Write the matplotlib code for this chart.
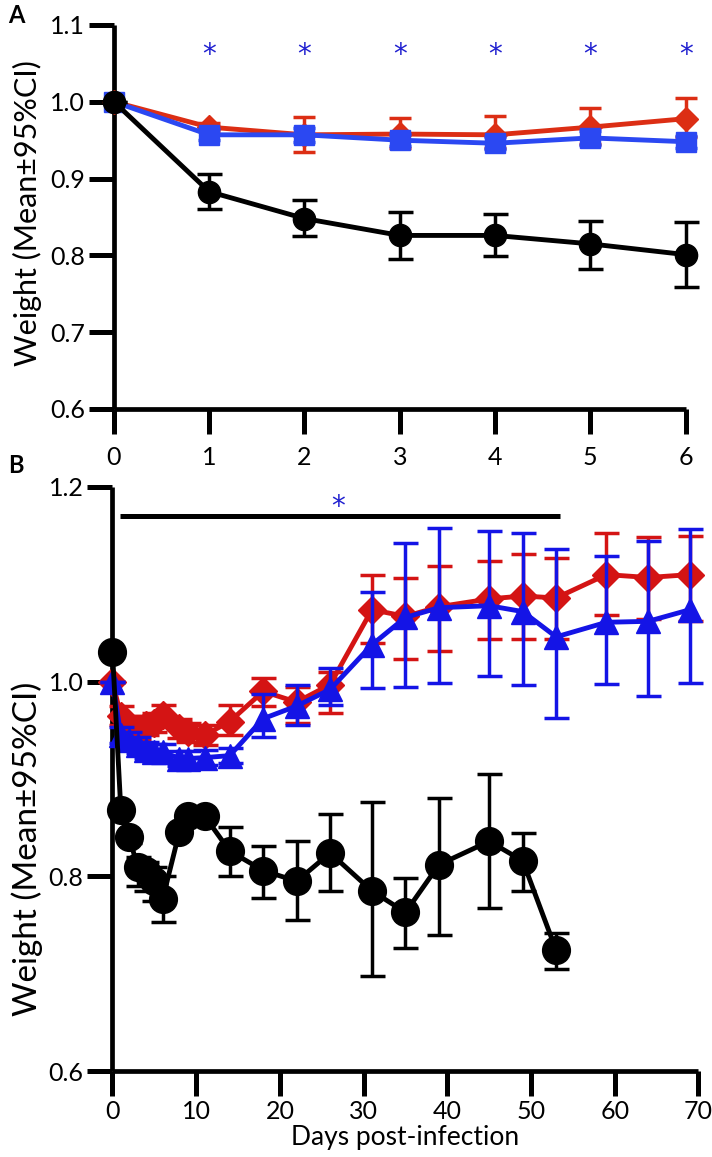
import matplotlib
matplotlib.use('Agg')
import matplotlib.pyplot as plt
import numpy as np

plt.rcParams['font.family'] = ['Lato', 'DejaVu Sans']

RED_A = '#dc2e14'
RED_B = '#d41414'
BLUE_A = '#2b48f2'
BLUE_B = '#1414e6'
STAR = '#2020d0'

# ---- Panel A data (days 0-6) ----
days_a = [0, 1, 2, 3, 4, 5, 6]
black_a = [1.000, 0.883, 0.848, 0.826, 0.826, 0.815, 0.801]
black_a_lo = [1.000, 0.861, 0.825, 0.795, 0.799, 0.782, 0.759]
black_a_hi = [1.000, 0.906, 0.872, 0.856, 0.854, 0.845, 0.843]
red_a = [1.000, 0.967, 0.957, 0.958, 0.957, 0.967, 0.978]
red_a_lo = [1.000, 0.962, 0.935, 0.940, 0.940, 0.945, 0.954]
red_a_hi = [1.000, 0.972, 0.980, 0.979, 0.982, 0.992, 1.005]
blue_a = [1.000, 0.957, 0.957, 0.950, 0.946, 0.953, 0.948]
blue_a_lo = [1.000, 0.950, 0.948, 0.942, 0.938, 0.944, 0.940]
blue_a_hi = [1.000, 0.964, 0.966, 0.958, 0.954, 0.962, 0.956]
star_days_a = [1, 2, 3, 4, 5, 6]

# ---- Panel B data ----
days_black_b = [0, 1, 2, 3, 4, 5, 6, 8, 9, 11, 14, 18, 22, 26, 31, 35, 39, 45, 49, 53]
black_b = [1.030, 0.868, 0.840, 0.810, 0.805, 0.795, 0.777, 0.846, 0.862, 0.862,
           0.826, 0.806, 0.795, 0.824, 0.785, 0.763, 0.812, 0.836, 0.816, 0.724]
black_b_lo = [1.030, 0.864, 0.834, 0.790, 0.785, 0.775, 0.753, 0.842, 0.858, 0.858,
              0.800, 0.778, 0.755, 0.785, 0.698, 0.726, 0.740, 0.767, 0.785, 0.705]
black_b_hi = [1.030, 0.872, 0.846, 0.820, 0.815, 0.810, 0.800, 0.850, 0.866, 0.866,
              0.851, 0.831, 0.836, 0.864, 0.876, 0.798, 0.881, 0.905, 0.845, 0.742]

days_b = [0, 1, 2, 3, 4, 5, 6, 8, 9, 11, 14, 18, 22, 26, 31, 35, 39, 45, 49, 53, 59, 64, 69]
red_b = [1.000, 0.965, 0.955, 0.950, 0.955, 0.958, 0.966, 0.952, 0.948, 0.945, 0.959,
         0.990, 0.979, 0.997, 1.074, 1.067, 1.077, 1.085, 1.088, 1.086, 1.110, 1.107, 1.110]
red_b_lo = [1.000, 0.955, 0.945, 0.940, 0.945, 0.948, 0.956, 0.942, 0.938, 0.935, 0.945,
            0.975, 0.958, 0.968, 1.040, 1.023, 1.031, 1.044, 1.044, 1.044, 1.068, 1.064, 1.062]
red_b_hi = [1.000, 0.975, 0.965, 0.960, 0.965, 0.968, 0.976, 0.962, 0.958, 0.955, 0.976,
            1.004, 0.995, 1.010, 1.110, 1.107, 1.119, 1.124, 1.131, 1.127, 1.153, 1.149, 1.150]
blue_b = [1.000, 0.945, 0.940, 0.935, 0.930, 0.928, 0.928, 0.921, 0.921, 0.922, 0.924,
          0.962, 0.975, 0.992, 1.038, 1.066, 1.076, 1.078, 1.072, 1.046, 1.061, 1.062, 1.074]
blue_b_lo = [1.000, 0.937, 0.932, 0.927, 0.922, 0.920, 0.920, 0.913, 0.913, 0.914, 0.916,
             0.943, 0.955, 0.976, 0.994, 0.995, 0.999, 1.006, 0.997, 0.963, 0.998, 0.985, 0.999]
blue_b_hi = [1.000, 0.953, 0.948, 0.943, 0.938, 0.936, 0.936, 0.929, 0.929, 0.930, 0.932,
             0.987, 0.997, 1.014, 1.092, 1.142, 1.158, 1.155, 1.153, 1.136, 1.129, 1.144, 1.157]
bar_b = (0.95, 53.4, 1.170)
star_b = (27, 1.179)


def err(mean, lo, hi):
    mean = np.asarray(mean)
    return [mean - np.asarray(lo), np.asarray(hi) - mean]


def style_axes(ax, xpad):
    for s in ['top', 'right']:
        ax.spines[s].set_visible(False)
    for s in ['left', 'bottom']:
        ax.spines[s].set_linewidth(3.4)
        ax.spines[s].set_capstyle('butt')
    ax.tick_params(axis='both', width=3.6, length=18, direction='out', labelsize=18)
    ax.tick_params(axis='y', pad=3)
    ax.tick_params(axis='x', pad=xpad)


fig = plt.figure(figsize=(7.12, 11.57), dpi=100)

# ---------------- Panel A ----------------
axA = fig.add_axes([0.160, 0.6465, 0.803, 0.3319])
kw = dict(clip_on=False, capthick=2.5, elinewidth=2.5, lw=3.5)
axA.errorbar(days_a, red_a, yerr=err(red_a, red_a_lo, red_a_hi), color=RED_A,
             marker='D', ms=12, capsize=8, zorder=3, **kw)
axA.errorbar(days_a, blue_a, yerr=err(blue_a, blue_a_lo, blue_a_hi), color=BLUE_A,
             marker='s', ms=15, capsize=8, zorder=4, **kw)
axA.errorbar(days_a, black_a, yerr=err(black_a, black_a_lo, black_a_hi), color='black',
             marker='o', ms=16, capsize=9, zorder=5, **kw)
for d in star_days_a:
    axA.text(d, 1.061, '*', color=STAR, fontsize=20, ha='center', va='center',
             family='DejaVu Sans')
axA.set_xlim(0, 6)
axA.set_ylim(0.6, 1.1)
axA.set_xticks(range(0, 7))
axA.set_yticks([0.6, 0.7, 0.8, 0.9, 1.0, 1.1])
axA.set_yticklabels(['0.6', '0.7', '0.8', '0.9', '1.0', '1.1'])
style_axes(axA, 9)
axA.set_ylabel('Weight (Mean±95%CI)', fontsize=22)
axA.yaxis.set_label_coords(-0.125, 0.51)

# ---------------- Panel B ----------------
axB = fig.add_axes([0.158, 0.0743, 0.823, 0.5048])
axB.plot([bar_b[0], bar_b[1]], [bar_b[2], bar_b[2]], color='black', lw=3.6,
         solid_capstyle='butt')
axB.text(star_b[0], star_b[1], '*', color=STAR, fontsize=20, ha='center', va='center',
         family='DejaVu Sans')
axB.errorbar(days_b, red_b, yerr=err(red_b, red_b_lo, red_b_hi), color=RED_B,
             marker='D', ms=14, capsize=9, zorder=3, **kw)
axB.errorbar(days_b, blue_b, yerr=err(blue_b, blue_b_lo, blue_b_hi), color=BLUE_B,
             marker='^', ms=17, capsize=9, zorder=4, **kw)
axB.errorbar(days_black_b, black_b, yerr=err(black_b, black_b_lo, black_b_hi),
             color='black', marker='o', ms=20, capsize=9, zorder=5, **kw)
axB.set_xlim(0, 70)
axB.set_ylim(0.6, 1.2)
axB.set_xticks(range(0, 71, 10))
axB.set_yticks([0.6, 0.8, 1.0, 1.2])
axB.set_yticklabels(['0.6', '0.8', '1.0', '1.2'])
style_axes(axB, 3)
axB.set_ylabel('Weight (Mean±95%CI)', fontsize=24)
axB.yaxis.set_label_coords(-0.118, 0.38)
axB.set_xlabel('Days post-infection', fontsize=19, labelpad=1)

fig.text(0.012, 0.987, 'A', fontsize=17, fontweight='bold', va='center')
fig.text(0.012, 0.598, 'B', fontsize=17, fontweight='bold', va='center')

fig.savefig('out.png', dpi=100)
